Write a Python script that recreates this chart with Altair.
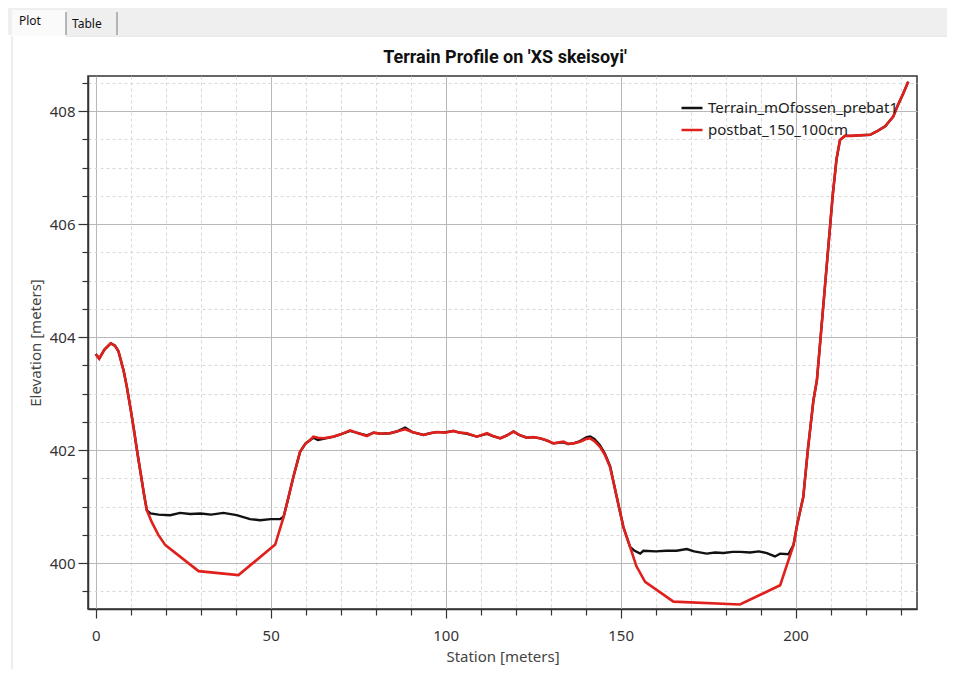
import altair as alt
import pandas as pd

# ---------------- data ----------------
# left bank (shared by both profiles)
left_station = [0, 1, 2.5, 4.3, 5.5, 6.5, 8, 8.9, 10, 10.8, 12, 12.7, 13.8, 14.6]
left_elev = [403.70, 403.62, 403.78, 403.89, 403.85, 403.75, 403.40, 403.12,
             402.72, 402.41, 401.92, 401.65, 401.22, 400.94]

# first channel: pre-dredging terrain
pit1_terrain_station = [15.6, 18, 21.3, 24.1, 27, 30, 33, 36.5, 40.3, 44.1, 47, 50, 52.7]
pit1_terrain_elev = [400.88, 400.86, 400.85, 400.89, 400.87, 400.88, 400.86, 400.89,
                     400.85, 400.78, 400.76, 400.78, 400.78]
# first channel: post-dredging
pit1_post_station = [16, 17.9, 19.9, 29.4, 40.8, 51.3]
pit1_post_elev = [400.73, 400.50, 400.32, 399.86, 399.79, 400.33]

# middle bar (shared)
mid_station = [53.7, 55.1, 56.5, 58.4, 60, 61.3, 62.2, 63.5, 65.1, 68, 70, 72.7, 75,
               77.5, 79.4, 81.5, 84.1, 86, 88.4, 90.5, 93.7, 95.5, 97.5, 100, 102.2,
               104, 106.1, 108.9, 111.8, 113.5, 115.6, 117.5, 119.4, 121, 123.2, 125,
               127, 129, 130.8, 133.7, 135, 136.5, 138.4, 140.3, 141.3, 142.5, 144.1,
               145.5, 147, 148.9, 150.8, 152.7]
mid_post_elev = [400.82, 401.17, 401.53, 401.97, 402.12, 402.18, 402.24, 402.22, 402.21,
                 402.24, 402.28, 402.35, 402.30, 402.25, 402.31, 402.29, 402.30, 402.33,
                 402.37, 402.32, 402.27, 402.30, 402.32, 402.31, 402.34, 402.31, 402.30,
                 402.24, 402.30, 402.25, 402.21, 402.26, 402.33, 402.27, 402.22, 402.23,
                 402.21, 402.17, 402.12, 402.15, 402.11, 402.12, 402.15, 402.20, 402.21,
                 402.16, 402.06, 401.92, 401.70, 401.17, 400.64, 400.29]
mid_terrain_elev = [400.82, 401.17, 401.53, 401.97, 402.12, 402.18, 402.22, 402.18, 402.20,
                    402.24, 402.28, 402.34, 402.30, 402.26, 402.31, 402.29, 402.30, 402.33,
                    402.40, 402.32, 402.27, 402.30, 402.32, 402.32, 402.34, 402.31, 402.29,
                    402.24, 402.29, 402.25, 402.21, 402.26, 402.33, 402.27, 402.22, 402.23,
                    402.21, 402.17, 402.12, 402.14, 402.11, 402.12, 402.16, 402.23, 402.24,
                    402.20, 402.09, 401.94, 401.72, 401.17, 400.64, 400.29]

# second channel: pre-dredging terrain
pit2_terrain_station = [154, 155.6, 156.5, 160, 163, 166, 168.9, 171, 174.6, 177, 179.4,
                        182, 184.2, 187, 189.5, 191.8, 194.1, 195.6, 198]
pit2_terrain_elev = [400.22, 400.17, 400.22, 400.21, 400.22, 400.22, 400.25, 400.21,
                     400.17, 400.19, 400.18, 400.20, 400.20, 400.19, 400.21, 400.18,
                     400.12, 400.17, 400.16]
# second channel: post-dredging
pit2_post_station = [154.5, 157, 165.1, 184.1, 195.6]
pit2_post_elev = [399.95, 399.67, 399.32, 399.27, 399.61]

# right bank (shared)
right_station = [199.4, 200.5, 202.2, 203.5, 205.1, 206.1, 207.3, 208.4, 209.5, 210.6,
                 211.7, 212.7, 214.1, 216, 218, 221.3, 223.5, 225.6, 227.9, 229.2,
                 230.7, 232.2]
right_elev = [400.32, 400.70, 401.17, 402.00, 402.88, 403.24, 404.10, 404.90, 405.70,
              406.50, 407.15, 407.49, 407.56, 407.56, 407.57, 407.58, 407.65, 407.73,
              407.90, 408.10, 408.30, 408.52]

series_names = ["Terrain_mOfossen_prebat1", "postbat_150_100cm"]
series_colors = ["#111111", "#e0201c"]
chart_title = ["Terrain Profile on 'XS skeisoyi'"]
tab_names = ["Plot", "Table"]

x_ticks = list(range(0, 240, 10))
y_ticks = [399.5 + 0.5 * i for i in range(19)]

# ---------------- tables ----------------
terrain = pd.DataFrame({
    "station": left_station + pit1_terrain_station + mid_station + pit2_terrain_station + right_station,
    "elev": left_elev + pit1_terrain_elev + mid_terrain_elev + pit2_terrain_elev + right_elev,
})
terrain["series"] = series_names[0]

post = pd.DataFrame({
    "station": left_station + pit1_post_station + mid_station + pit2_post_station + right_station,
    "elev": left_elev + pit1_post_elev + mid_post_elev + pit2_post_elev + right_elev,
})
post["series"] = series_names[1]

FONT = "Noto Sans"

x_enc = alt.X(
    "station:Q",
    scale=alt.Scale(domain=[-2.2, 234.7], nice=False, zero=False),
    axis=alt.Axis(
        title="Station [meters]",
        values=x_ticks,
        labelExpr="datum.value % 50 === 0 ? datum.label : ''",
        gridDash={"condition": {"test": "datum.value % 50 === 0", "value": []}, "value": [3, 3]},
        gridColor={"condition": {"test": "datum.value % 50 === 0", "value": "#b8b8b8"}, "value": "#d8d8d8"},
        tickSize={"condition": {"test": "datum.value % 50 === 0", "value": 9}, "value": 6},
        labelPadding=10,
        titlePadding=6,
    ),
)
y_enc = alt.Y(
    "elev:Q",
    scale=alt.Scale(domain=[399.19, 408.62], nice=False, zero=False),
    axis=alt.Axis(
        title="Elevation [meters]",
        values=y_ticks,
        format=".0f",
        labelExpr="datum.value % 2 === 0 ? datum.label : ''",
        gridDash={"condition": {"test": "datum.value % 2 === 0", "value": []}, "value": [3, 3]},
        gridColor={"condition": {"test": "datum.value % 2 === 0", "value": "#b8b8b8"}, "value": "#d8d8d8"},
        tickSize={"condition": {"test": "datum.value % 2 === 0", "value": 10}, "value": 6},
        labelPadding=3,
        titlePadding=6,
    ),
)
color_enc = alt.Color(
    "series:N",
    scale=alt.Scale(domain=series_names, range=series_colors),
    legend=alt.Legend(
        title=None,
        orient="none",
        legendX=592,
        legendY=20,
        symbolType="stroke",
        symbolSize=440,
        symbolStrokeWidth=2.5,
        labelFontSize=15,
        labelFont=FONT,
        labelColor="#222222",
        labelOffset=4,
        labelLimit=400,
        rowPadding=2,
    ),
)

line_terrain = alt.Chart(terrain).mark_line(strokeWidth=2.4, clip=True).encode(
    x=x_enc, y=y_enc, color=color_enc, order="station:Q"
)
line_post = alt.Chart(post).mark_line(strokeWidth=2.6, clip=True).encode(
    x=x_enc, y=y_enc, color=color_enc, order="station:Q"
)

# ---------------- title and window decoration (tab strip) ----------------
title_mark = alt.Chart(pd.DataFrame({"t": chart_title})).mark_text(
    align="center", baseline="middle", fontSize=18, font="Roboto", fontWeight="bold", color="#111111"
).encode(text="t:N", x=alt.value(417), y=alt.value(-18))

band = alt.Chart(pd.DataFrame({"a": [0]})).mark_rect(color="#efefef").encode(
    x=alt.value(-80), x2=alt.value(859), y=alt.value(-68), y2=alt.value(-41)
)
tab_plot = alt.Chart(pd.DataFrame({"a": [0]})).mark_rect(color="#fafafa").encode(
    x=alt.value(-76), x2=alt.value(-22), y=alt.value(-66), y2=alt.value(-40)
)
tab_line1 = alt.Chart(pd.DataFrame({"a": [0]})).mark_rule(color="#8a8a8a", strokeWidth=1.2).encode(
    x=alt.value(-22), y=alt.value(-64), y2=alt.value(-41)
)
tab_line2 = alt.Chart(pd.DataFrame({"a": [0]})).mark_rule(color="#8a8a8a", strokeWidth=1.2).encode(
    x=alt.value(29), y=alt.value(-64), y2=alt.value(-41)
)
panel_top = alt.Chart(pd.DataFrame({"a": [0]})).mark_rule(color="#d8d8d8").encode(
    x=alt.value(-22), x2=alt.value(859), y=alt.value(-40)
)
panel_left = alt.Chart(pd.DataFrame({"a": [0]})).mark_rule(color="#dcdcdc").encode(
    x=alt.value(-76), y=alt.value(-40), y2=alt.value(600)
)
tab_text = alt.Chart(pd.DataFrame({"t": tab_names[:1]})).mark_text(
    align="left", baseline="middle", fontSize=12, font=FONT, color="#111111"
).encode(text="t:N", x=alt.value(-69), y=alt.value(-55))
tab_text2 = alt.Chart(pd.DataFrame({"t": tab_names[1:]})).mark_text(
    align="left", baseline="middle", fontSize=12, font=FONT, color="#111111"
).encode(text="t:N", x=alt.value(-16), y=alt.value(-52))

chart = alt.layer(
    band, tab_plot, tab_line1, tab_line2, panel_top, panel_left, tab_text, tab_text2,
    title_mark, line_terrain, line_post,
).properties(
    width=829,
    height=533,
    autosize=alt.AutoSizeParams(type="none"),
    padding={"left": 80, "top": 68, "right": 30, "bottom": 60},
).configure_view(
    stroke="#333333", strokeWidth=1.5
).configure_axis(
    labelFont=FONT, labelFontSize=15, labelColor="#333333",
    titleFont=FONT, titleFontSize=15, titleFontWeight="normal", titleColor="#444444",
    domainColor="#333333", domainWidth=1.5, tickColor="#333333", tickWidth=1.2,
    gridWidth=1,
)

chart.save("out.html", embed_options={"renderer": "svg", "actions": False})
